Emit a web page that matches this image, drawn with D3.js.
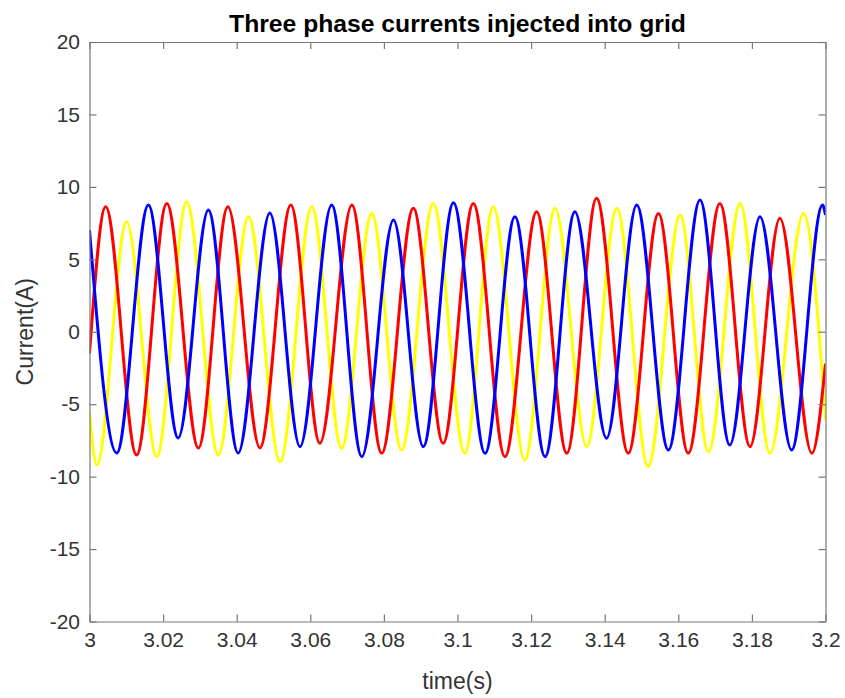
<!DOCTYPE html>
<html>
<head>
<meta charset="utf-8">
<script src="https://cdn.jsdelivr.net/npm/d3@7"></script>
<style>
  html, body { margin: 0; padding: 0; background: #fff; }
  svg { display: block; font-family: "Liberation Sans", Arial, Helvetica, sans-serif; }
</style>
</head>
<body>
<svg id="chart" width="845" height="698"></svg>
<script>
// ---- Data ----
const titleText = "Three phase currents injected into grid";
const xLabel = "time(s)";
const yLabel = "Current(A)";
const xTicks = [3, 3.02, 3.04, 3.06, 3.08, 3.1, 3.12, 3.14, 3.16, 3.18, 3.2];
const xTickLabels = ["3", "3.02", "3.04", "3.06", "3.08", "3.1", "3.12", "3.14", "3.16", "3.18", "3.2"];
const yTicks = [-20, -15, -10, -5, 0, 5, 10, 15, 20];
const yTickLabels = ["-20", "-15", "-10", "-5", "0", "5", "10", "15", "20"];

// phase currents: [time (s), current (A)] at start, each peak/trough, and end
const phaseRed = [
  [3.0000, -1.5], [3.0044, 8.63], [3.0128, -8.51], [3.0210, 8.86], [3.0296, -8.02],
  [3.0376, 8.63], [3.0463, -8.02], [3.0547, 8.75], [3.0626, -7.70], [3.0713, 8.75],
  [3.0794, -8.39], [3.0880, 8.52], [3.0961, -7.70], [3.1043, 8.86], [3.1129, -8.62],
  [3.1215, 8.29], [3.1297, -8.39], [3.1378, 9.21], [3.1464, -8.39], [3.1546, 8.17],
  [3.1627, -8.39], [3.1713, 8.86], [3.1795, -7.93], [3.1876, 7.83], [3.1963, -8.39],
  [3.2000, -2.2]
];
const phaseYellow = [
  [3.0000, -5.6], [3.0020, -9.2], [3.0101, 7.59], [3.0183, -8.62], [3.0264, 8.98],
  [3.0350, -8.51], [3.0432, 7.94], [3.0518, -8.97], [3.0604, 8.63], [3.0685, -8.04],
  [3.0767, 8.17], [3.0848, -8.16], [3.0934, 8.86], [3.1020, -8.39], [3.1097, 8.63],
  [3.1183, -8.85], [3.1265, 8.52], [3.1351, -7.93], [3.1433, 8.52], [3.1518, -9.3],
  [3.1605, 8.06], [3.1682, -8.28], [3.1768, 8.86], [3.1849, -8.39], [3.1940, 8.17],
  [3.2000, -6.1]
];
const phaseBlue = [
  [3.0000, 7.02], [3.0074, -8.37], [3.0160, 8.75], [3.0241, -7.33], [3.0323, 8.40],
  [3.0404, -8.37], [3.0490, 8.20], [3.0572, -7.93], [3.0658, 8.75], [3.0740, -8.62],
  [3.0826, 7.71], [3.0907, -7.93], [3.0989, 8.9], [3.1075, -8.39], [3.1156, 7.94],
  [3.1238, -8.62], [3.1319, 8.29], [3.1405, -7.35], [3.1487, 8.75], [3.1573, -8.16],
  [3.1659, 9.09], [3.1740, -7.82], [3.1822, 7.94], [3.1908, -8.16], [3.1992, 8.75],
  [3.2000, 8.06]
];

// ---- Layout ----
const plot = { left: 89.5, right: 825.5, top: 42, bottom: 621.5 };
const axisColor = "#777";
const textColor = "#333";

const svg = d3.select("#chart");
const x = d3.scaleLinear().domain([3, 3.2]).range([plot.left, plot.right]);
const y = d3.scaleLinear().domain([-20, 20]).range([plot.bottom, plot.top]);

svg.append("defs").append("clipPath").attr("id", "clip")
  .append("rect")
  .attr("x", plot.left).attr("y", plot.top)
  .attr("width", plot.right - plot.left).attr("height", plot.bottom - plot.top);

svg.append("rect")
  .attr("x", plot.left).attr("y", plot.top)
  .attr("width", plot.right - plot.left).attr("height", plot.bottom - plot.top)
  .attr("fill", "#fff");

// ---- Lines ----
const line = d3.line()
  .x(d => x(d[0]))
  .y(d => y(d[1]))
  .curve(d3.curveMonotoneX);

const series = [
  { data: phaseYellow, color: "#ffff00" },
  { data: phaseRed, color: "#ff0000" },
  { data: phaseBlue, color: "#0000ff" }
];

const gLines = svg.append("g").attr("clip-path", "url(#clip)");
series.forEach(s => {
  gLines.append("path")
    .datum(s.data)
    .attr("d", line)
    .attr("fill", "none")
    .attr("stroke", s.color)
    .attr("stroke-width", 3)
    .attr("stroke-linejoin", "round");
});

// ---- Axes ----
const fmtX = (d) => xTickLabels[xTicks.indexOf(d)];
const fmtY = (d) => yTickLabels[yTicks.indexOf(d)];

function styleAxis(g) {
  g.select(".domain").attr("stroke", axisColor).attr("stroke-width", 1.2);
  g.selectAll(".tick line").attr("stroke", axisColor).attr("stroke-width", 1.2);
  g.selectAll(".tick text").attr("fill", textColor)
    .style("font-size", "21px")
    .style("font-family", "'Liberation Sans', Arial, Helvetica, sans-serif");
}

svg.append("g")
  .attr("transform", `translate(0,${plot.bottom})`)
  .call(d3.axisBottom(x).tickValues(xTicks).tickFormat(fmtX)
    .tickSizeInner(-7).tickSizeOuter(0).tickPadding(11))
  .call(styleAxis);

svg.append("g")
  .attr("transform", `translate(0,${plot.top})`)
  .call(d3.axisTop(x).tickValues(xTicks).tickFormat("")
    .tickSizeInner(-7).tickSizeOuter(0))
  .call(styleAxis);

svg.append("g")
  .attr("transform", `translate(${plot.left},0)`)
  .call(d3.axisLeft(y).tickValues(yTicks).tickFormat(fmtY)
    .tickSizeInner(-7).tickSizeOuter(0).tickPadding(9.5))
  .call(styleAxis);

svg.append("g")
  .attr("transform", `translate(${plot.right},0)`)
  .call(d3.axisRight(y).tickValues(yTicks).tickFormat("")
    .tickSizeInner(-7).tickSizeOuter(0))
  .call(styleAxis);

// ---- Titles ----
svg.append("text")
  .attr("x", (plot.left + plot.right) / 2)
  .attr("y", 32)
  .attr("text-anchor", "middle")
  .attr("fill", "#000")
  .style("font-size", "24.7px")
  .style("font-weight", "bold")
  .text(titleText);

svg.append("text")
  .attr("x", (plot.left + plot.right) / 2)
  .attr("y", 689)
  .attr("text-anchor", "middle")
  .attr("fill", textColor)
  .style("font-size", "23px")
  .text(xLabel);

svg.append("text")
  .attr("transform", `translate(33,${(plot.top + plot.bottom) / 2}) rotate(-90)`)
  .attr("text-anchor", "middle")
  .attr("fill", textColor)
  .style("font-size", "23px")
  .text(yLabel);
</script>
</body>
</html>
